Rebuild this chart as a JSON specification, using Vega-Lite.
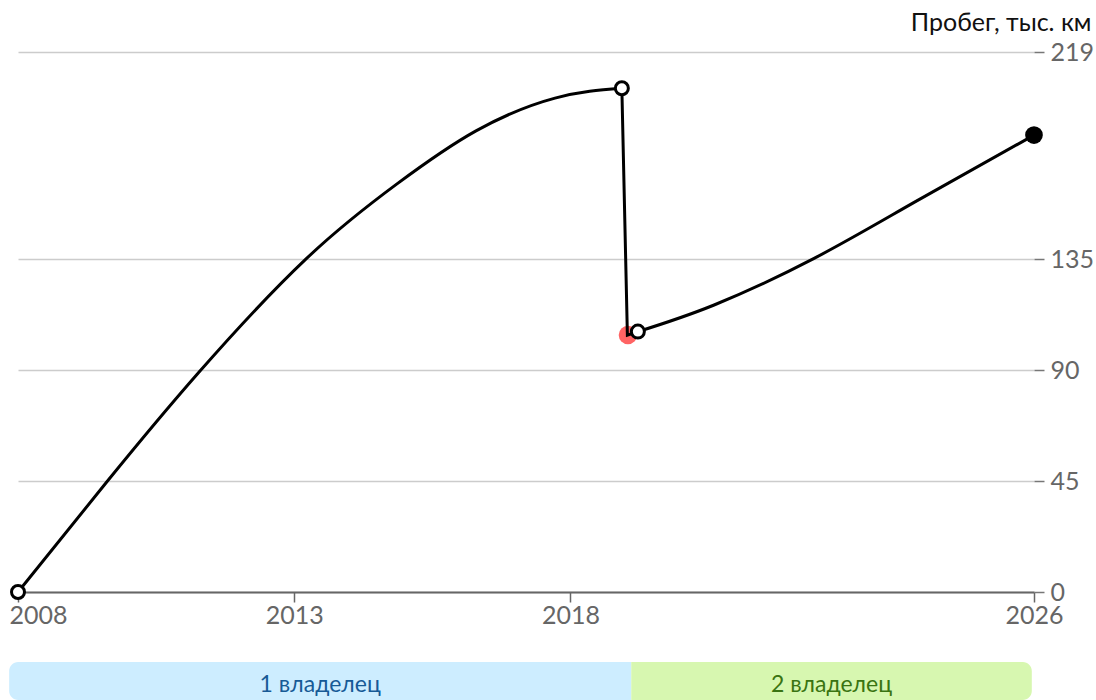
{
  "$schema": "https://vega.github.io/schema/vega-lite/v6.json",
  "padding": {"left": 5, "right": 3, "top": 10, "bottom": 0},
  "background": "white",
  "config": {"view": {"stroke": null}, "font": "Lato", "concat": {"spacing": 34}},
  "datasets": {
    "mileage": [
      {"year": 2008.0, "km": 0},
      {"year": 2009.62, "km": 45},
      {"year": 2011.27, "km": 89},
      {"year": 2013.21, "km": 135},
      {"year": 2014.86, "km": 165.5},
      {"year": 2016.29, "km": 187},
      {"year": 2017.72, "km": 200.3},
      {"year": 2018.93, "km": 204.3},
      {"year": 2019.03, "km": 104.2},
      {"year": 2019.22, "km": 105.6},
      {"year": 2020.6, "km": 116.4},
      {"year": 2022.41, "km": 135.3},
      {"year": 2024.22, "km": 158},
      {"year": 2026.39, "km": 185.3}
    ],
    "events": [
      {"year": 2008.0, "km": 0, "type": "open"},
      {"year": 2018.93, "km": 204.3, "type": "open"},
      {"year": 2019.22, "km": 105.6, "type": "open"},
      {"year": 2026.39, "km": 185.3, "type": "current"},
      {"year": 2019.04, "km": 104.2, "type": "alert"}
    ],
    "owners": [
      {"owner": "1 владелец", "n": 1, "start": 2007.84, "end": 2019.1},
      {"owner": "2 владелец", "n": 2, "start": 2019.1, "end": 2026.35}
    ]
  },
  "vconcat": [
    {
      "width": 1016,
      "height": 540,
      "encoding": {
        "x": {
          "field": "year",
          "type": "quantitative",
          "scale": {"domain": [2008, 2026.39], "nice": false, "zero": false},
          "axis": {
            "values": [2008, 2013, 2018, 2026.39],
            "labelExpr": "floor(datum.value) + ''",
            "grid": false,
            "title": null,
            "domainColor": "#666666",
            "domainWidth": 2,
            "tickColor": "#666666",
            "tickWidth": 1.5,
            "tickSize": 10,
            "labelFontSize": 25,
            "labelColor": "#666666",
            "labelPadding": 1,
            "labelFlush": false,
            "labelAlign": {"expr": "datum.value < 2009 ? 'left' : 'center'"},
            "labelOffset": {"expr": "datum.value < 2009 ? -9 : 0"}
          }
        },
        "y": {
          "field": "km",
          "type": "quantitative",
          "scale": {"domain": [0, 219], "nice": false},
          "axis": {
            "orient": "right",
            "values": [0, 45, 90, 135, 219],
            "grid": true,
            "gridColor": "#cccccc",
            "gridWidth": 1.5,
            "domain": false,
            "tickColor": "#777777",
            "tickWidth": 1.5,
            "tickSize": 10,
            "labelPadding": 6,
            "labelFontSize": 25,
            "labelColor": "#666666",
            "title": "Пробег, тыс. км",
            "titleAngle": 0,
            "titleAlign": "right",
            "titleBaseline": "alphabetic",
            "titleX": 57,
            "titleY": -22,
            "titleFontSize": 25,
            "titleFontWeight": "normal",
            "titleColor": "#111111"
          }
        }
      },
      "layer": [
        {
          "data": {"name": "events"},
          "transform": [{"filter": "datum.type == 'alert'"}],
          "mark": {"type": "point", "filled": true, "color": "#ff6464", "size": 340, "opacity": 1}
        },
        {
          "data": {"name": "mileage"},
          "transform": [{"filter": "datum.year <= 2018.93"}],
          "mark": {"type": "line", "color": "#000000", "strokeWidth": 3, "interpolate": "natural"}
        },
        {
          "data": {"name": "mileage"},
          "transform": [{"filter": "datum.year >= 2018.93 && datum.year <= 2019.22"}],
          "mark": {"type": "line", "color": "#000000", "strokeWidth": 3, "interpolate": "linear"}
        },
        {
          "data": {"name": "mileage"},
          "transform": [{"filter": "datum.year >= 2019.22"}],
          "mark": {"type": "line", "color": "#000000", "strokeWidth": 3, "interpolate": "natural"}
        },
        {
          "data": {"name": "events"},
          "transform": [{"filter": "datum.type == 'open'"}],
          "mark": {"type": "point", "filled": false, "fill": "#ffffff", "fillOpacity": 1, "stroke": "#000000", "strokeWidth": 3, "size": 169, "opacity": 1}
        },
        {
          "data": {"name": "events"},
          "transform": [{"filter": "datum.type == 'current'"}],
          "mark": {"type": "point", "filled": true, "color": "#000000", "size": 313, "opacity": 1}
        }
      ]
    },
    {
      "width": 1016,
      "height": 38,
      "data": {"name": "owners"},
      "layer": [
        {
          "transform": [{"filter": "datum.n == 1"}],
          "mark": {"type": "rect", "color": "#cdedff", "cornerRadiusTopLeft": 9, "cornerRadiusBottomLeft": 9},
          "encoding": {
            "x": {"field": "start", "type": "quantitative", "scale": {"domain": [2008, 2026.39], "nice": false, "zero": false}, "axis": null},
            "x2": {"field": "end"}
          }
        },
        {
          "transform": [{"filter": "datum.n == 2"}],
          "mark": {"type": "rect", "color": "#d7f7b0", "cornerRadiusTopRight": 9, "cornerRadiusBottomRight": 9},
          "encoding": {
            "x": {"field": "start", "type": "quantitative", "scale": {"domain": [2008, 2026.39], "nice": false, "zero": false}, "axis": null},
            "x2": {"field": "end"}
          }
        },
        {
          "transform": [{"calculate": "(datum.start + datum.end) / 2", "as": "mid"}],
          "mark": {"type": "text", "fontSize": 23, "baseline": "middle", "dy": 4},
          "encoding": {
            "x": {"field": "mid", "type": "quantitative", "scale": {"domain": [2008, 2026.39], "nice": false, "zero": false}, "axis": null},
            "text": {"field": "owner"},
            "color": {"field": "owner", "type": "nominal", "scale": {"domain": ["1 владелец", "2 владелец"], "range": ["#175a96", "#3a7412"]}, "legend": null}
          }
        }
      ]
    }
  ]
}
